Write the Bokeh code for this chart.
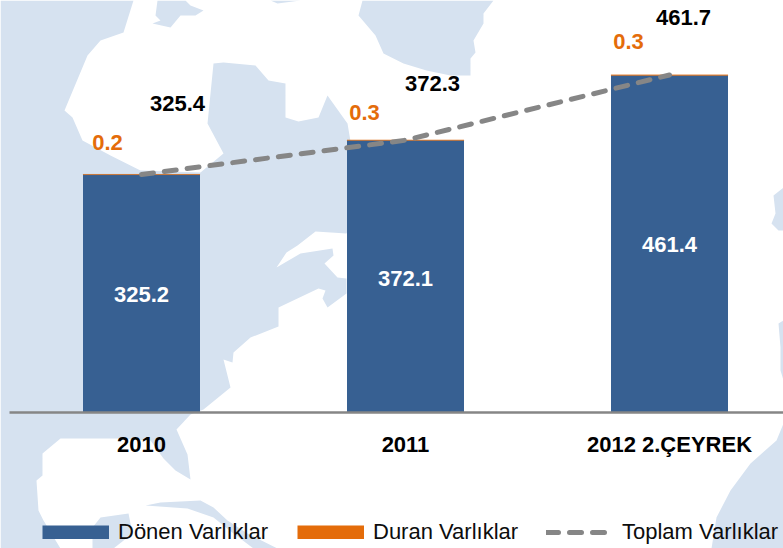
from bokeh.plotting import figure
from bokeh.models import Range1d, ColumnDataSource, FixedTicker, Legend, LegendItem, LinearAxis
from bokeh.embed import file_html
from bokeh.resources import INLINE
from bokeh.core.properties import value

# ---- data ----
categories = ["2010", "2011", "2012 2.ÇEYREK"]
donen = [325.2, 372.1, 461.4]
duran = [0.2, 0.3, 0.3]
toplam = [325.4, 372.3, 461.7]
duran_labels = ["0.2", "0.3", "0.3"]
donen_labels = ["325.2", "372.1", "461.4"]
toplam_labels = ["325.4", "372.3", "461.7"]

# ---- layout ----
W, H = 783, 548
PX_PER_UNIT = 0.73
PX_PER_CAT = 264.0
BASE_PX = 411.5         # frame px from top to the zero line
FIRST_PX = 141.0        # frame px of the first category
FONT = "Liberation Sans"
SEA = "#D6E2F0"
BLUE = "#376092"
ORANGE = "#E46C0A"
GREY = "#868686"

x_pos = list(range(len(categories)))

p = figure(width=W, height=H, output_backend="svg", toolbar_location=None,
           x_axis_location=None, y_axis_location=None,
           x_range=Range1d(-FIRST_PX / PX_PER_CAT, (W - FIRST_PX) / PX_PER_CAT),
           y_range=Range1d(-(H - BASE_PX) / PX_PER_UNIT, BASE_PX / PX_PER_UNIT),
           min_border_left=0, min_border_right=0, min_border_top=0, min_border_bottom=0)
p.grid.visible = False
p.outline_line_color = None
p.background_fill_color = "white"
p.border_fill_color = "white"

# background map: decoration, in picture pixels
p.extra_x_ranges = {"px": Range1d(0, W)}
p.extra_y_ranges = {"py": Range1d(H, 0)}
map_shapes = [
    [(0, 0), (133, 0), (123, 32), (100, 40), (87, 55), (64, 110), (72, 117), (82, 140), (110, 155),
     (140, 170), (200, 172), (223, 153), (207, 123), (213, 63), (223, 62), (255, 65), (268, 80),
     (285, 83), (285, 117), (298, 121), (318, 117), (327, 95), (347, 123), (360, 200), (346, 233),
     (315, 231), (297, 245), (286, 252), (276, 267), (300, 253), (332, 248), (333, 255), (324, 263),
     (337, 277), (346, 278), (346, 293), (327, 307), (322, 298), (325, 290), (318, 288), (278, 307),
     (278, 326), (250, 337), (233, 352), (232, 362), (223, 359), (230, 387), (203, 409), (190, 414),
     (176, 429), (187, 454), (190, 479), (175, 470), (163, 458), (150, 440), (117, 438), (60, 438),
     (42, 453), (42, 475), (36, 480), (38, 510), (43, 520), (60, 548), (0, 548)],
    [(157, 0), (155, 15), (160, 20), (152, 23), (170, 27), (180, 15), (195, 15), (203, 10), (190, 5), (185, 0)],
    [(270, 0), (277, 3), (300, 0)],
    [(362, 0), (358, 15), (375, 35), (383, 53), (403, 63), (426, 70), (450, 75), (470, 75), (470, 58),
     (475, 52), (473, 40), (483, 23), (483, 13), (493, 0)],
    [(145, 505), (160, 502), (200, 500), (213, 507), (227, 520), (247, 533), (277, 548), (253, 548),
     (233, 533), (213, 517), (187, 508)],
    [(92, 527), (100, 517), (128, 513), (132, 533), (113, 548), (92, 548)],
    [(711, 548), (716, 517), (730, 490), (750, 463), (776, 440), (783, 423), (783, 548)],
    [(783, 187), (773, 195), (775, 213), (771, 223), (778, 230), (783, 230)],
    [(783, 320), (778, 323), (780, 347), (780, 370), (783, 380)],
]
p.patches([[q[0] for q in s] for s in map_shapes], [[q[1] for q in s] for s in map_shapes],
          fill_color=SEA, line_color=None, x_range_name="px", y_range_name="py")

# bars
bar_w = 117 / PX_PER_CAT
tops = [a + b for a, b in zip(donen, duran)]
p.vbar(x=x_pos, bottom=0, top=donen, width=bar_w, fill_color=BLUE, line_color=None)
p.vbar(x=x_pos, bottom=donen, top=tops, width=bar_w, fill_color=ORANGE,
       line_color=ORANGE, line_width=1, line_alpha=0.5)

# total line
r_toplam = p.line(x_pos, toplam, line_color=GREY, line_width=5, line_dash="12 11", line_cap="round")

# zero axis with category labels
axis = LinearAxis(fixed_location=0, ticker=FixedTicker(ticks=x_pos),
                  major_label_overrides=dict(zip(x_pos, categories)),
                  bounds=(-132 / PX_PER_CAT, (W - FIRST_PX) / PX_PER_CAT),
                  axis_line_color=GREY, axis_line_width=2.5,
                  major_tick_line_color=None, minor_tick_line_color=None,
                  major_label_standoff=14, major_label_text_font=FONT,
                  major_label_text_font_size="22px", major_label_text_font_style="bold",
                  major_label_text_color="black")
p.add_layout(axis, "below")

# value labels
def labels(y, txt, color, dx, dy):
    src = ColumnDataSource(dict(x=x_pos, y=y, t=txt, dx=dx, dy=dy))
    p.text("x", "y", text="t", source=src, x_offset="dx", y_offset="dy",
           text_align="center", text_baseline="middle", text_color=color,
           text_font=value(FONT), text_font_size="22px", text_font_style="bold")

labels([v / 2 for v in donen], donen_labels, "white", [0, 0, 0], [1, 2, 1])
labels(tops, duran_labels, ORANGE, [-34, -41, -41], [-32, -28, -33])
labels(toplam, toplam_labels, "black", [36, 27, 14], [-71, -57, -57])

# legend: thick-line proxies (never visible: no defined points) give swatches of the exact size
nan_y = [float("nan")] * len(x_pos)
r_k1 = p.line(x_pos, nan_y, line_color=BLUE, line_width=14)
r_k2 = p.line(x_pos, nan_y, line_color=ORANGE, line_width=14)
for label, rend, left in [("Dönen Varlıklar", r_k1, 42), ("Duran Varlıklar", r_k2, 297),
                          ("Toplam Varlıklar", r_toplam, 546)]:
    p.add_layout(Legend(items=[LegendItem(label=label, renderers=[rend])],
                        orientation="horizontal", location=(left, 3), background_fill_alpha=0,
                        border_line_color=None, padding=0, margin=0, spacing=0,
                        glyph_width=67 if rend is not r_toplam else 62, glyph_height=14,
                        label_standoff=9 if rend is not r_toplam else 14,
                        label_text_font=FONT, label_text_font_size="22px", label_text_color="#0d0d0d"), "center")

open("out.html", "w").write(file_html(p, INLINE))
